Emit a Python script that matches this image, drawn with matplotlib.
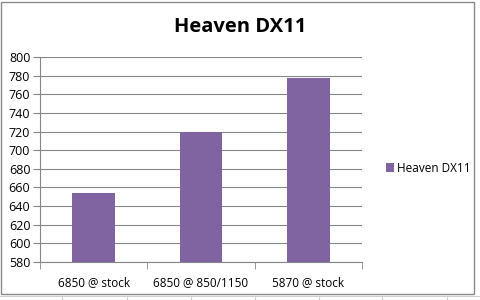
import matplotlib
matplotlib.use("Agg")
import matplotlib.pyplot as plt
from matplotlib.lines import Line2D
from matplotlib.patches import Rectangle

categories = ["6850 @ stock", "6850 @ 850/1150", "5870 @ stock"]
values = [654, 719, 778]
series_name = "Heaven DX11"
yticks = list(range(580, 801, 20))

W, H = 481, 300
fig = plt.figure(figsize=(W / 100, H / 100), dpi=100)
fig.patch.set_facecolor("white")
plt.rcParams['font.family'] = ['Open Sans', 'DejaVu Sans']

def fx(px):
    return px / W

def fy(py):
    return 1 - py / H

ax = fig.add_axes([fx(40), fy(262), fx(362) - fx(40), fy(57) - fy(262)])
x = list(range(len(categories)))
ax.bar(x, values, width=0.4, color="#8064A2", label=series_name, zorder=3)
ax.set_xlim(-0.5, len(categories) - 0.5)
ax.set_ylim(580, 800)
ax.set_yticks(yticks)
ax.set_yticklabels([str(v) for v in yticks], fontsize=9)
ax.set_xticks(x)
ax.set_xticklabels(categories, fontsize=8.5)
ax.set_xticks([i - 0.5 for i in range(len(categories) + 1)], minor=True)
ax.tick_params(axis="x", which="major", length=0, pad=10)
ax.tick_params(axis="x", which="minor", length=5, color="#868686", direction="out")
ax.tick_params(axis="y", length=5, color="#868686", pad=2)
ax.grid(axis="y", color="#868686", linewidth=0.8, zorder=0)
for s in ["top", "right"]:
    ax.spines[s].set_visible(False)
for s in ["left", "bottom"]:
    ax.spines[s].set_color("#868686")
    ax.spines[s].set_linewidth(0.8)

fig.text(0.5, fy(27), "Heaven DX11", ha="center", va="center", fontsize=14.5,
         fontweight="bold", family=["Open Sans", "DejaVu Sans"])

ax.legend(loc="center left", bbox_to_anchor=(fx(375), fy(168)), bbox_transform=fig.transFigure,
          frameon=False, fontsize=8.5, handlelength=0.7, handleheight=0.7, handletextpad=0.3)

# chart border
fig.add_artist(Rectangle((fx(0.5), fy(294)), fx(474), fy(2) - fy(294), transform=fig.transFigure,
                         fill=False, edgecolor="#8a8a8a", linewidth=1))
# spreadsheet cell lines below/right of chart
fig.add_artist(Line2D([0, 1], [fy(295.5), fy(295.5)], transform=fig.transFigure, color="#d0d0d0", lw=0.8))
for cx in [62, 127, 191, 255, 319, 382, 447]:
    fig.add_artist(Line2D([fx(cx), fx(cx)], [0, fy(295.5)], transform=fig.transFigure, color="#d0d0d0", lw=0.8))

fig.savefig("out.png", dpi=100)
